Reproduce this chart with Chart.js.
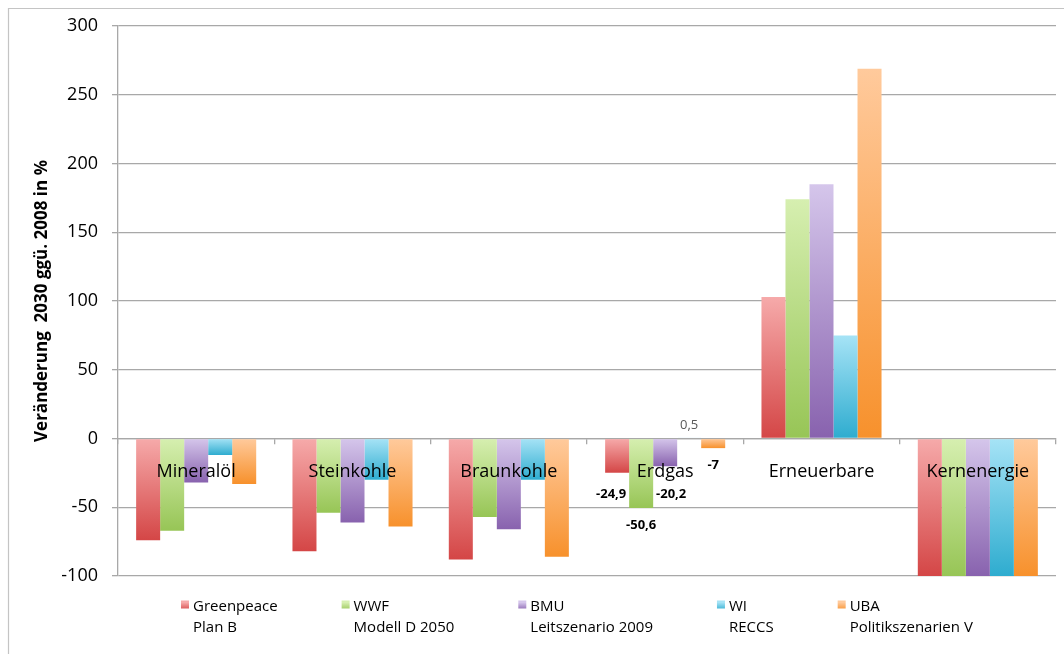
<!DOCTYPE html>
<html>
<head>
<meta charset="utf-8">
<script src="https://cdn.jsdelivr.net/npm/chart.js@4.4.1/dist/chart.umd.min.js"></script>
<style>
  html, body { margin: 0; padding: 0; background: #fff; }
  #wrap { position: relative; width: 1064px; height: 654px; }
</style>
</head>
<body>
<div id="wrap"><canvas id="c" width="1064" height="654"></canvas></div>
<script>
// ---- data ----
const categories = ['Mineralöl', 'Steinkohle', 'Braunkohle', 'Erdgas', 'Erneuerbare', 'Kernenergie'];
const seriesNames = [
  ['Greenpeace', 'Plan B'],
  ['WWF', 'Modell D 2050'],
  ['BMU', 'Leitszenario 2009'],
  ['WI', 'RECCS'],
  ['UBA', 'Politikszenarien V']
];
const greenpeace = [-74, -82, -88, -24.9, 103, -100];
const wwf        = [-67, -54, -57, -50.6, 174, -100];
const bmu        = [-32, -61, -66, -20.2, 185, -100];
const wi         = [-12, -30, -30,   0.5,  75, -100];
const uba        = [-33, -64, -86,  -7,   269, -100];
const yTicks     = { min: -100, max: 300, step: 50 };
const labeledCategory = 'Erdgas';
const yTitle = 'Veränderung  2030 ggü. 2008 in %';

// ---- styles ----
const colorPairs = [
  ['#f6aaaa', '#d44646'],
  ['#d6efb0', '#97c556'],
  ['#d5c6eb', '#8862ae'],
  ['#a6e3f6', '#2eaccf'],
  ['#ffca9c', '#f7912c']
];
const FONT = '"Open Sans", "DejaVu Sans", sans-serif';

function gradFor(ctx, pair) {
  const chart = ctx.chart;
  const ys = chart.scales.y;
  if (!ys || ctx.parsed === undefined || ctx.type !== 'data') return pair[1];
  const v = ctx.parsed.y;
  const p0 = ys.getPixelForValue(0);
  const p1 = ys.getPixelForValue(v);
  const top = Math.min(p0, p1), bot = Math.max(p0, p1);
  if (!isFinite(top) || bot - top < 1) return pair[1];
  const g = chart.ctx.createLinearGradient(0, top, 0, bot);
  g.addColorStop(0, pair[0]);
  g.addColorStop(1, pair[1]);
  return g;
}

const allSeries = [greenpeace, wwf, bmu, wi, uba];
const datasets = allSeries.map((arr, i) => ({
  label: seriesNames[i].join(' '),
  data: arr,
  backgroundColor: (ctx) => gradFor(ctx, colorPairs[i]),
  borderWidth: 0,
  barPercentage: 1.0,
  categoryPercentage: 0.768
}));

const framePlugin = {
  id: 'frame',
  beforeDraw(chart) {
    const c = chart.ctx;
    c.save();
    c.fillStyle = '#fff';
    c.fillRect(0, 0, chart.width, chart.height);
    c.strokeStyle = '#c4c4c4';
    c.lineWidth = 1.2;
    c.beginPath();
    c.moveTo(8.5, chart.height);
    c.lineTo(8.5, 8.5);
    c.lineTo(chart.width, 8.5);
    c.stroke();
    c.restore();
  }
};

const valueLabelPlugin = {
  id: 'valueLabels',
  afterDraw(chart) {
    const c = chart.ctx;
    const ci = categories.indexOf(labeledCategory);
    const zero = chart.scales.y.getPixelForValue(0);
    const catX = chart.scales.x.getPixelForValue(ci);
    c.save();
    c.textAlign = 'center';
    c.textBaseline = 'middle';
    chart.data.datasets.forEach((ds, di) => {
      const el = chart.getDatasetMeta(di).data[ci];
      const v = ds.data[ci];
      const txt = String(v).replace('.', ',');
      let x = el.x, y;
      if (v >= 0) {
        c.font = '13px ' + FONT;
        c.fillStyle = '#595959';
        y = el.y - 13;
      } else {
        c.font = 'bold 13px ' + FONT;
        c.fillStyle = '#000';
        y = el.y + 17;
        if (el.y > zero + 20 && y < zero + 56) {
          y = zero + 56;
          x += (x < catX ? -6 : 6);
        }
      }
      c.fillText(txt, x, y);
    });
    c.restore();
  }
};

const legendPlugin = {
  id: 'customLegend',
  afterDraw(chart) {
    const c = chart.ctx;
    const area = chart.chartArea;
    c.save();
    c.font = '15px ' + FONT;
    c.textBaseline = 'middle';
    c.textAlign = 'left';
    const box = 8, boxGap = 4, gap = 64;
    let x = area.left + 63;
    const y1 = area.bottom + 30.5, y2 = y1 + 21;
    chart.data.datasets.forEach((ds, i) => {
      const lines = seriesNames[i];
      const w = Math.max(...lines.map(l => c.measureText(l).width));
      const g = c.createLinearGradient(0, y1 - box / 2, 0, y1 + box / 2);
      g.addColorStop(0, colorPairs[i][0]);
      g.addColorStop(1, colorPairs[i][1]);
      c.fillStyle = g;
      c.fillRect(x, y1 - box / 2 - 2, box, box);
      c.fillStyle = '#000';
      c.fillText(lines[0], x + box + boxGap, y1);
      c.fillText(lines[1], x + box + boxGap, y2);
      x += box + boxGap + w + gap;
    });
    c.restore();
  }
};

new Chart(document.getElementById('c'), {
  type: 'bar',
  data: { labels: categories, datasets },
  plugins: [framePlugin, valueLabelPlugin, legendPlugin],
  options: {
    responsive: false,
    animation: false,
    devicePixelRatio: 1,
    layout: { padding: { left: 10, top: 26, right: 8, bottom: 78 } },
    plugins: {
      legend: { display: false },
      tooltip: { enabled: false }
    },
    scales: {
      y: {
        min: yTicks.min,
        max: yTicks.max,
        afterFit(scale) { scale.width = 108; },
        ticks: {
          stepSize: yTicks.step,
          font: { family: FONT, size: 18 },
          color: '#000',
          padding: 14
        },
        grid: { color: '#a8a8a8', lineWidth: 1.3, tickLength: 6, drawTicks: true },
        border: { display: true, color: '#a8a8a8', width: 1.3 },
        title: {
          display: true,
          text: yTitle,
          font: { family: FONT, size: 17, weight: 'bold' },
          color: '#000',
          padding: { top: 22, bottom: 0 }
        }
      },
      x: {
        position: { y: 0 },
        grid: { drawOnChartArea: false, drawTicks: true, tickLength: 5, offset: true, color: '#a8a8a8', lineWidth: 1.3 },
        border: { display: true, color: '#a8a8a8', width: 1.3 },
        ticks: {
          z: 1,
          font: { family: FONT, size: 18 },
          color: '#000',
          padding: 18,
          maxRotation: 0,
          autoSkip: false
        }
      }
    }
  }
});
</script>
</body>
</html>
